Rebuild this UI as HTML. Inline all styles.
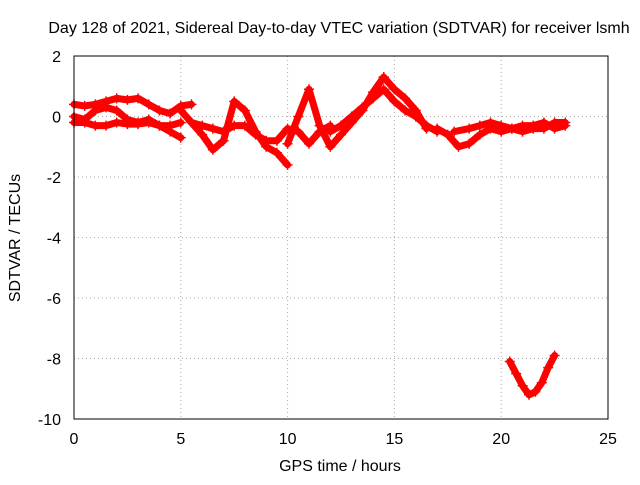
<!DOCTYPE html>
<html><head><meta charset="utf-8"><style>
body{margin:0;background:#fff;}
svg text{font-family:"Liberation Sans",sans-serif;font-size:16px;fill:#000;}
</style></head><body>
<svg id="chart" width="640" height="480">
<text x="339" y="33" text-anchor="middle">Day 128 of 2021, Sidereal Day-to-day VTEC variation (SDTVAR) for receiver lsmh</text>
<text x="340" y="471" text-anchor="middle">GPS time / hours</text>
<text transform="translate(20,238) rotate(-90)" text-anchor="middle">SDTVAR / TECUs</text>
<g id="grid"></g><g id="ticks"></g><g id="series"></g>
<rect x="74" y="56" width="534" height="363" fill="none" stroke="#000" stroke-width="1"/>
</svg>
<script>
const xTicks=[0,5,10,15,20,25];
const yTicks=[2,0,-2,-4,-6,-8,-10];
const seriesX=[
[0,0.5,1,1.5,2,2.5,3,3.5,4,4.5,5,5.5],
[0,0.5,1,1.5,2,2.5,3,3.5,4,4.5,5],
[0,0.5,1,1.5,2,2.5,3,3.5,4,4.5,5],
[5,5.5,6,6.5,7,7.5,8,8.5,9,9.5,10],
[5.5,6,6.5,7,7.5,8,8.5,9,9.5,10,10.5,11,11.5,12],
[10,10.5,11,11.5,12,12.5,13,13.5,14,14.5],
[12,12.5,13,13.5,14,14.5,15,15.5,16,16.5,17],
[14.5,15,15.5,16,16.5],
[17,17.5,18,18.5,19,19.5,20,20.5,21,21.5,22,22.5,23],
[17.8,18.5,19,19.5,20,20.5,21,21.5,22,22.5,23],
[20.4,20.7,21,21.3,21.6,21.9,22.2,22.5]
];
const seriesY=[
[0.4,0.35,0.4,0.5,0.6,0.55,0.6,0.4,0.2,0.1,0.35,0.4],
[0,-0.1,0.2,0.3,0.2,-0.1,-0.2,-0.1,-0.3,-0.5,-0.7],
[-0.2,-0.2,-0.3,-0.3,-0.2,-0.25,-0.25,-0.2,-0.3,-0.3,-0.2],
[0.2,-0.2,-0.6,-1.1,-0.8,0.5,0.2,-0.5,-1,-1.2,-1.6],
[-0.2,-0.3,-0.4,-0.5,-0.3,-0.3,-0.6,-0.8,-0.8,-0.4,-0.5,-0.9,-0.5,-0.3],
[-0.9,0,0.9,-0.3,-1,-0.6,-0.2,0.2,0.8,1.3],
[-0.5,-0.3,0,0.3,0.6,0.9,0.5,0.2,0,-0.3,-0.5],
[1.3,0.9,0.6,0.2,-0.4],
[-0.4,-0.6,-1,-0.9,-0.6,-0.4,-0.5,-0.4,-0.3,-0.3,-0.2,-0.4,-0.3],
[-0.5,-0.4,-0.3,-0.2,-0.3,-0.4,-0.5,-0.4,-0.4,-0.2,-0.2],
[-8.1,-8.5,-8.9,-9.2,-9.1,-8.8,-8.3,-7.9]
];
const NS="http://www.w3.org/2000/svg";
const X=v=>74+v*(534/25), Y=v=>56+(2-v)*(363/12);
const grid=document.getElementById('grid'),ticks=document.getElementById('ticks'),ser=document.getElementById('series');
function mk(tag,a,p){const e=document.createElementNS(NS,tag);for(const k in a)e.setAttribute(k,a[k]);p.appendChild(e);return e;}
xTicks.forEach(t=>{
 const l=mk('line',{x1:X(t),x2:X(t),y1:56,y2:419,stroke:'#aaa','stroke-dasharray':'1,3'},grid);
 
 
 const tx=mk('text',{x:X(t),y:444,'text-anchor':'middle'},ticks);tx.textContent=t;
 
 
});
yTicks.forEach(t=>{
 const l=mk('line',{x1:74,x2:608,y1:Y(t),y2:Y(t),stroke:'#aaa','stroke-dasharray':'1,3'},grid);
 
 
 const tx=mk('text',{x:61,y:Y(t)+6,'text-anchor':'end'},ticks);tx.textContent=t;
 
 
});
seriesX.forEach((xs,i)=>{
 const ys=seriesY[i];
 const pts=xs.map((x,j)=>X(x)+','+Y(ys[j])).join(' ');
 const pl=mk('polyline',{points:pts,fill:'none',stroke:'#f00','stroke-width':7,'stroke-linejoin':'round','stroke-linecap':'round'},ser);
 
 
 xs.forEach((x,j)=>{
  const cx=X(x),cy=Y(ys[j]);
  const p=mk('path',{d:`M${cx-5},${cy}H${cx+5}M${cx},${cy-5}V${cy+5}`,stroke:'#f00','stroke-width':1.5},ser);
  
  
 });
});
</script>
</body></html>
